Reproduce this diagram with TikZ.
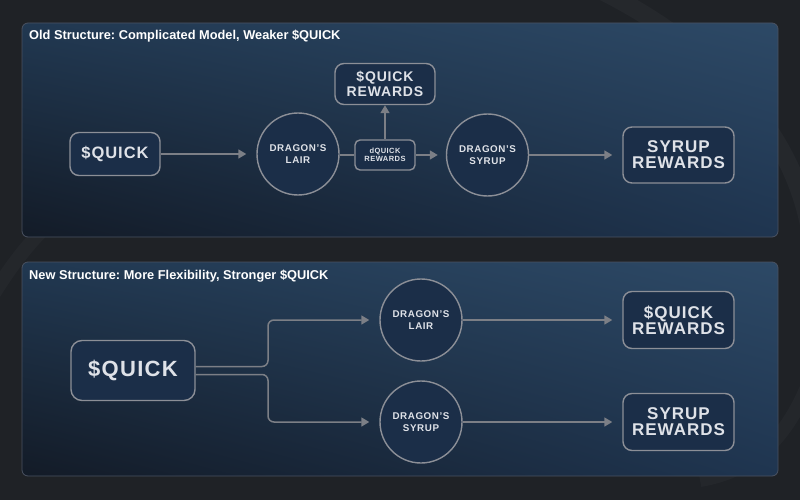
\documentclass[tikz,border=0pt]{standalone}
\usepackage{fontspec}
\setmainfont{Liberation Sans}
\newfontfamily\spaced{Liberation Sans}[LetterSpace=6]
\usetikzlibrary{arrows.meta,calc,shadings}
\frenchspacing
\definecolor{bgc}{HTML}{1F2226}
\definecolor{swirl}{HTML}{292C31}
\definecolor{pborder}{HTML}{4A5261}
\definecolor{pul}{HTML}{213851}
\definecolor{pur}{HTML}{2D4966}
\definecolor{pll}{HTML}{131B27}
\definecolor{plr}{HTML}{1F3550}
\definecolor{nfill}{HTML}{1B2E48}
\definecolor{nborder}{HTML}{8C8F97}
\definecolor{arrc}{HTML}{7C7F86}
\definecolor{ntext}{HTML}{DFE2E8}
\tikzset{
  panel/.style={draw=pborder, line width=0.8pt, rounded corners=6pt,
    lower left=pll, lower right=plr, upper left=pul, upper right=pur},
  ptitle/.style={anchor=west, text=white, font=\fontsize{12.8}{14}\selectfont\bfseries, inner sep=0},
  rbox/.style={draw=nborder, fill=nfill, line width=1.4pt, rounded corners=9pt, inner sep=0, align=center, text=ntext},
  circ/.style={draw=nborder, fill=nfill, line width=1.4pt, circle, minimum size=82pt, inner sep=0, align=center, text=ntext,
    font=\spaced\fontsize{9.8}{12}\selectfont\bfseries},
  arr/.style={draw=arrc, line width=1.5pt, -{Triangle[length=8pt,width=9pt]}, shorten >=10pt},
  link/.style={draw=arrc, line width=1.5pt},
}
\begin{document}
\begin{tikzpicture}[x=1pt,y=-1pt]
\fill[bgc] (0,0) rectangle (800,500);
\useasboundingbox (0,0) rectangle (800,500);
% faint background swirls
\draw[swirl, line width=18pt, opacity=0.6] (600,-10) .. controls (700,40) and (790,120) .. (810,230);
\draw[swirl, line width=14pt, opacity=0.5] (-10,300) .. controls (20,250) and (60,200) .. (120,180);
\draw[swirl, line width=14pt, opacity=0.5] (700,480) .. controls (760,470) and (790,430) .. (810,380);
% panels
\shade[panel] (22,23) rectangle (778,237);
\shade[panel] (22,262) rectangle (778,476);
\node[ptitle] (t1) at (29,36) {Old Structure: Complicated Model, Weaker \$QUICK};
\node[ptitle] (t2) at (29,276) {New Structure: More Flexibility, Stronger \$QUICK};
% ---- old structure
\node[rbox, minimum width=90pt, minimum height=43pt, font=\spaced\fontsize{16.5}{18}\selectfont\bfseries] (q1) at (115,154) {\$QUICK};
\node[circ] (lair1) at (298,154) {DRAGON’S\\LAIR};
\node[rbox, rounded corners=5pt, minimum width=60pt, minimum height=30pt, font=\spaced\fontsize{7.5}{8.5}\selectfont\bfseries] (dq) at (385,155) {dQUICK\\REWARDS};
\node[rbox, minimum width=100pt, minimum height=41pt, font=\spaced\fontsize{14}{14.5}\selectfont\bfseries] (qr1) at (385,84) {\$QUICK\\REWARDS};
\node[circ] (syr1) at (487.5,155) {DRAGON’S\\SYRUP};
\node[rbox, minimum width=111pt, minimum height=56pt, font=\spaced\fontsize{17}{16}\selectfont\bfseries] (sr1) at (678.5,155) {SYRUP\\REWARDS};
\draw[arr] (q1.east) -- (q1.east -| lair1.west);
\draw[link] (lair1.east |- dq.west) -- (dq.west);
\draw[arr, shorten >=0pt] (dq.north) -- (qr1.south);
\draw[arr, shorten >=8pt] (dq.east) -- (dq.east -| syr1.west);
\draw[arr] (syr1.east) -- (syr1.east -| sr1.west);
% ---- new structure
\node[rbox, minimum width=124pt, minimum height=60pt, rounded corners=11pt, font=\spaced\fontsize{22}{24}\selectfont\bfseries] (q2) at (133,370.5) {\$QUICK};
\node[circ] (lair2) at (421,320) {DRAGON’S\\LAIR};
\node[circ] (syr2) at (421,422) {DRAGON’S\\SYRUP};
\node[rbox, minimum width=111pt, minimum height=57pt, font=\spaced\fontsize{17}{16}\selectfont\bfseries] (qr2) at (678.5,320) {\$QUICK\\REWARDS};
\node[rbox, minimum width=111pt, minimum height=57pt, font=\spaced\fontsize{17}{16}\selectfont\bfseries] (sr2) at (678.5,422) {SYRUP\\REWARDS};
\coordinate (split) at (268,370);
\draw[arr, rounded corners=6pt] ([yshift=4pt]q2.east) -| (split |- lair2.west) -- (lair2.west);
\draw[arr, rounded corners=6pt] ([yshift=-4pt]q2.east) -| (split |- syr2.west) -- (syr2.west);
\draw[arr] (lair2.east) -- (lair2.east -| qr2.west);
\draw[arr] (syr2.east) -- (syr2.east -| sr2.west);
\end{tikzpicture}
\end{document}
